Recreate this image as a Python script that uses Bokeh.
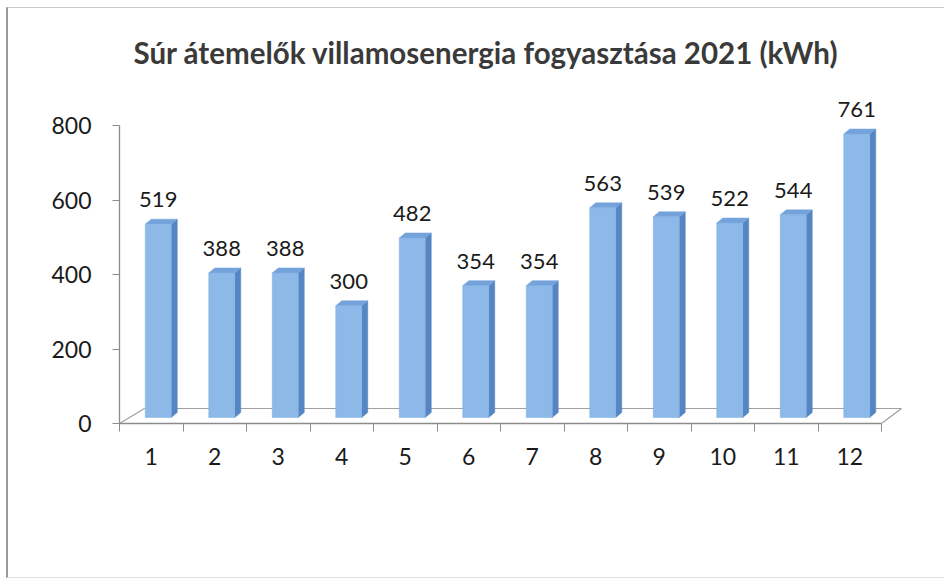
import numpy as np
from bokeh.plotting import figure
from bokeh.models import LinearAxis, FixedTicker, Range1d
from bokeh.core.properties import value
from bokeh.embed import file_html
from bokeh.resources import INLINE

# ---- data ----
months = ["1", "2", "3", "4", "5", "6", "7", "8", "9", "10", "11", "12"]
consumption = [519, 388, 388, 300, 482, 354, 354, 563, 539, 522, 544, 761]
y_ticks = [0, 200, 400, 600, 800]
title_text = "Súr átemelők villamosenergia fogyasztása 2021 (kWh)"

# ---- layout / style constants (pixel based) ----
W, H = 938, 571
BORDER_L, BORDER_R, BORDER_T, BORDER_B = 111, 26, 64, 156
PX_X = 63.5      # px per category
PX_Y = 0.3725    # px per kWh
FONT = "Lato"

n = len(months)
x_start = 0.5
x_end = x_start + (W - BORDER_L - BORDER_R) / PX_X
y_end = (H - BORDER_T - BORDER_B) / PX_Y

front = "#8DB9E8"
side = "#5585C2"
topc = "#74A2DA"
axis_col = "#8C8C8C"

p = figure(width=W, height=H, output_backend="svg", toolbar_location=None,
           x_range=Range1d(x_start, x_end), y_range=Range1d(0, y_end),
           x_axis_location=None, y_axis_location=None,
           min_border_left=BORDER_L, min_border_right=BORDER_R,
           min_border_top=BORDER_T, min_border_bottom=BORDER_B,
           background_fill_color="white", border_fill_color="white",
           outline_line_color=None)
p.grid.visible = False

p.title.text = title_text
p.title.align = "left"
p.title.text_font = FONT
p.title.text_font_style = "bold"
p.title.text_font_size = "29.5px"
p.title.text_color = "#3a3a3a"
p.title.offset = 14
p.title.standoff = 5

# ---- y axis ----
yax = LinearAxis(ticker=FixedTicker(ticks=y_ticks), bounds=(0, y_ticks[-1]))
yax.axis_line_color = axis_col
yax.axis_line_width = 1.3
yax.major_tick_line_color = axis_col
yax.major_tick_out = 7
yax.major_tick_in = 0
yax.minor_tick_line_color = None
yax.major_label_standoff = 21
yax.major_label_text_font = FONT
yax.major_label_text_font_size = "23px"
yax.major_label_text_color = "#1a1a1a"
p.add_layout(yax, "left")

# ---- x axis (labels at centers, tick marks at boundaries) ----
centers = np.arange(1, n + 1, dtype=float)
bounds_ticks = list(np.arange(0.5, n + 1, 1.0))
xax = LinearAxis(ticker=FixedTicker(ticks=list(centers), minor_ticks=bounds_ticks),
                 bounds=(x_start, n + 0.5))
xax.major_label_overrides = {float(c): m for c, m in zip(centers, months)}
xax.major_label_overrides.update({int(c): m for c, m in zip(centers, months)})
xax.axis_line_color = axis_col
xax.axis_line_width = 1.5
xax.major_tick_line_color = None
xax.major_tick_out = 0
xax.minor_tick_line_color = axis_col
xax.minor_tick_out = 8
xax.minor_tick_in = 0
xax.major_label_standoff = 16
xax.major_label_text_font = FONT
xax.major_label_text_font_size = "23px"
xax.major_label_text_color = "#1a1a1a"
p.add_layout(xax, "below")

# ---- 3D floor ----
fdy = 15 / PX_Y
bl = 0.5 + 25 / PX_X
br = n + 0.5 + 20 / PX_X
p.multi_line(xs=[[x_start, bl], [bl, br], [n + 0.5, br]],
             ys=[[0, fdy], [fdy, fdy], [0, fdy]],
             line_color="#A0A0A0", line_width=1.2)

# ---- 3D bars ----
vals = np.array(consumption, dtype=float)
shift = 7 / PX_X
bw = 26 / PX_X
ddx = 6 / PX_X
ddy = 5 / PX_Y
base = 6 / PX_Y
cx = centers + shift
left = cx - bw / 2
right = cx + bw / 2
bot = np.full(n, base)
top = vals + base

side_xs = [[r, r + ddx, r + ddx, r] for r in right]
side_ys = [[b, b + ddy, t + ddy, t] for b, t in zip(bot, top)]
p.patches(side_xs, side_ys, fill_color=side, line_color=side, line_width=0.5)
top_xs = [[l, r, r + ddx, l + ddx] for l, r in zip(left, right)]
top_ys = [[t, t, t + ddy, t + ddy] for t in top]
p.patches(top_xs, top_ys, fill_color=topc, line_color=topc, line_width=0.5)
p.quad(left=left, right=right, bottom=bot, top=top,
       fill_color=front, line_color="#7FAEE2", line_width=0.5)

# ---- data labels ----
p.text(x=cx, y=top + 24.5 / PX_Y, text=[str(v) for v in consumption],
       text_align="center", text_baseline="middle",
       text_font=value(FONT), text_font_size="22px", text_color="#1a1a1a")

p.styles = {"margin-left": "6px", "margin-top": "7px",
            "border-left": "2px solid #9a9a9a", "border-top": "1px solid #c8c8c8",
            "border-bottom": "1px solid #e0e0e0"}

open("out.html", "w").write(file_html(p, INLINE))
